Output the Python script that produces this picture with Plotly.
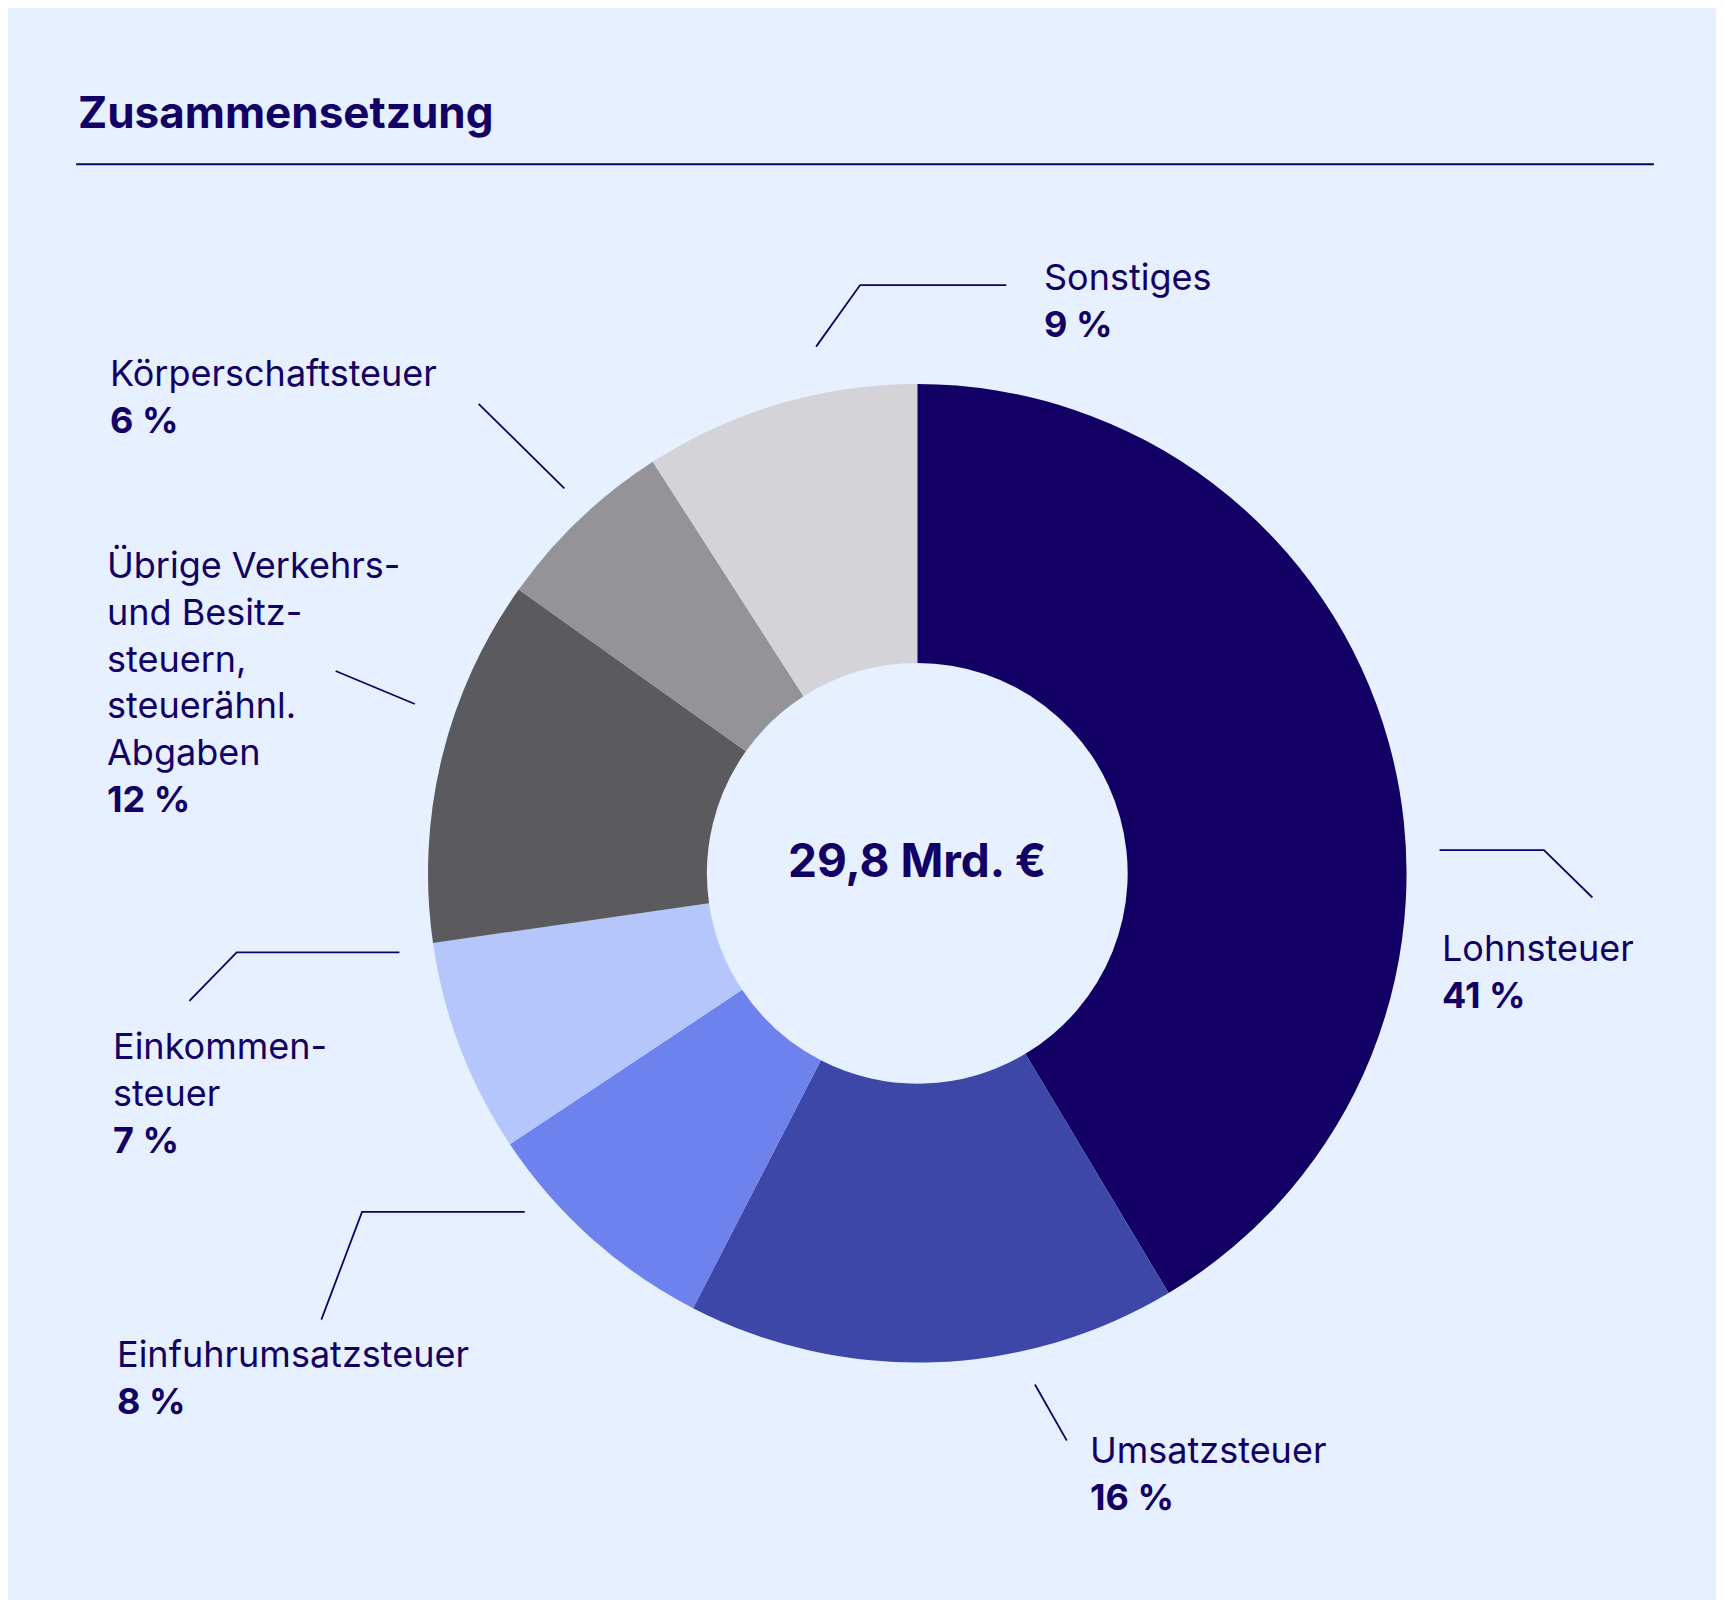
import plotly.graph_objects as go

# Zusammensetzung der Steuereinnahmen
labels = ["Lohnsteuer", "Umsatzsteuer", "Einfuhrumsatzsteuer", "Einkommensteuer",
          "Übrige Verkehrs- und Besitzsteuern, steuerähnl. Abgaben",
          "Körperschaftsteuer", "Sonstiges"]
values = [41, 16, 8, 7, 12, 6, 9]
colors = ["#120064", "#3d47a8", "#6d82ed", "#b5c6fd", "#5a5a5f", "#949498", "#d4d4d8"]
label_texts = ["Lohnsteuer", "Umsatzsteuer", "Einfuhrumsatzsteuer", "Einkommen-<br>steuer",
               "Übrige Verkehrs-<br>und Besitz-<br>steuern,<br>steuerähnl.<br>Abgaben",
               "Körperschaftsteuer", "Sonstiges"]
total_text = "29,8 Mrd. €"

W, H = 1724, 1600
S = W / 1568  # reference drawn at 1568 px wide
BG = "#e6f0ff"
INK = "#120064"
FONT = "Inter"


def px(x, y):
    return x * S / W, 1 - y * S / H


# Label positions (top-left corner) and leader lines, in reference pixels
label_pos = [(1302, 833), (982, 1290), (97, 1202), (94, 922), (88, 485), (91, 310), (940, 223)]
leaders = [
    [(1302, 766), (1397, 766), (1441, 809)],
    [(934, 1252), (963, 1303)],
    [(285, 1193), (322, 1095), (470, 1095)],
    [(165, 903), (208, 859), (356, 859)],
    [(298, 603), (370, 633)],
    [(428, 360), (506, 437)],
    [(735, 308), (775, 252), (908, 252)],
]

cx, cy, r = 827, 787, 445
x0, y1 = px(cx - r, cy - r)
x1, y0 = px(cx + r, cy + r)

fig = go.Figure(go.Pie(
    labels=labels, values=values, hole=0.43, sort=False, direction="clockwise",
    rotation=0, marker=dict(colors=colors, line=dict(width=0)),
    textinfo="none", hoverinfo="label+percent", showlegend=False,
    domain=dict(x=[x0, x1], y=[y0, y1]),
))

annotations = []
for txt, v, (lx, ly) in zip(label_texts, values, label_pos):
    ax, ay = px(lx, ly)
    annotations.append(dict(
        x=ax, y=ay, xref="paper", yref="paper", xanchor="left", yanchor="top",
        align="left", showarrow=False,
        text=f"{txt}<br><b>{v} %</b>",
        font=dict(family=FONT, size=36, color=INK),
    ))

tx, ty = px(62, 95)
annotations.append(dict(x=tx, y=ty, xref="paper", yref="paper", xanchor="left",
                        yanchor="middle", showarrow=False, text="<b>Zusammensetzung</b>",
                        font=dict(family=FONT, size=44, color=INK)))
mx, my = px(cx, 775)
annotations.append(dict(x=mx, y=my, xref="paper", yref="paper", xanchor="center",
                        yanchor="middle", showarrow=False, text=f"<b>{total_text}</b>",
                        font=dict(family=FONT, size=46, color=INK)))

shapes = []
lx0, ly = px(62, 142)
lx1, _ = px(1497, 142)
shapes.append(dict(type="line", xref="paper", yref="paper", x0=lx0, x1=lx1, y0=ly, y1=ly,
                   line=dict(color=INK, width=2)))
for pts in leaders:
    path = "M " + " L ".join(f"{px(a, b)[0]},{px(a, b)[1]}" for a, b in pts)
    shapes.append(dict(type="path", xref="paper", yref="paper", path=path,
                       line=dict(color=INK, width=1.8)))

fig.update_layout(
    width=W, height=H, margin=dict(l=0, r=0, t=0, b=0),
    paper_bgcolor=BG, plot_bgcolor=BG,
    annotations=annotations, shapes=shapes,
    font=dict(family=FONT, color=INK),
)

fig.write_html("out.html")
